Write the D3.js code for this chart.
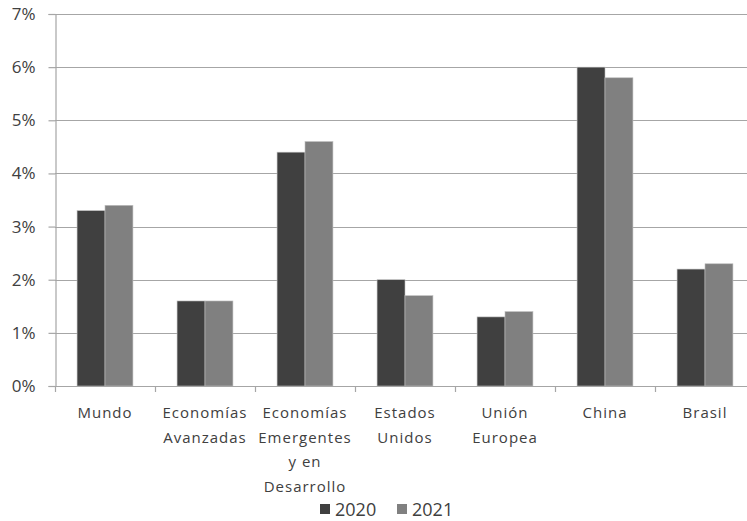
<!DOCTYPE html>
<html>
<head>
<meta charset="utf-8">
<script src="https://cdn.jsdelivr.net/npm/d3@7"></script>
<style>
  html, body { margin: 0; padding: 0; background: #fff; }
  svg { display: block; }
  text { font-family: "Open Sans", "DejaVu Sans", sans-serif; fill: #404040; }
</style>
</head>
<body>
<svg id="chart" width="747" height="521"></svg>
<script>
// Growth forecasts by region (percent)
const categories = ["Mundo", "Economías Avanzadas", "Economías Emergentes y en Desarrollo",
                    "Estados Unidos", "Unión Europea", "China", "Brasil"];
const categoryLines = [["Mundo"], ["Economías", "Avanzadas"], ["Economías", "Emergentes", "y en", "Desarrollo"],
                       ["Estados", "Unidos"], ["Unión", "Europea"], ["China"], ["Brasil"]];
const seriesNames = ["2020", "2021"];
const values2020 = [3.3, 1.6, 4.4, 2.0, 1.3, 6.0, 2.2];
const values2021 = [3.4, 1.6, 4.6, 1.7, 1.4, 5.8, 2.3];
const yTicks = [0, 1, 2, 3, 4, 5, 6, 7];
const colors = ["#404040", "#808080"];

const svg = d3.select("#chart");
const plotLeft = 55, plotRight = 755, plotTop = 14, plotBottom = 386;

const x = d3.scaleBand().domain(categories).range([plotLeft, plotRight]).padding(0);
const x1 = d3.scaleBand().domain(seriesNames).range([0, x.bandwidth()])
  .paddingInner(0).paddingOuter(0.79);
const y = d3.scaleLinear().domain([0, 7]).range([plotBottom, plotTop]);

// Horizontal gridlines
svg.append("g").selectAll("line").data(yTicks.filter(d => d > 0)).join("line")
  .attr("x1", plotLeft).attr("x2", plotRight)
  .attr("y1", d => Math.round(y(d)) + 0.5).attr("y2", d => Math.round(y(d)) + 0.5)
  .attr("stroke", "#a6a6a6").attr("stroke-width", 1.2);

// Bars
const rows = categories.map((c, i) => ({ c, vals: [values2020[i], values2021[i]] }));
const groups = svg.append("g").selectAll("g").data(rows).join("g")
  .attr("transform", d => `translate(${x(d.c)},0)`);
groups.selectAll("rect").data(d => d.vals.map((v, j) => ({ s: seriesNames[j], v, j }))).join("rect")
  .attr("x", d => x1(d.s))
  .attr("width", x1.bandwidth())
  .attr("y", d => y(d.v))
  .attr("height", d => y(0) - y(d.v))
  .attr("fill", d => colors[d.j])
  .attr("stroke", "#bfbfbf").attr("stroke-width", 0.6);

// Y axis
const yAxis = d3.axisLeft(y).tickValues(yTicks).tickFormat(d => d + "%").tickSize(7).tickPadding(13);
const gy = svg.append("g").attr("transform", `translate(${plotLeft + 0.5},0)`).call(yAxis);
gy.select(".domain").attr("stroke", "#a6a6a6").attr("stroke-width", 1.2);
gy.selectAll(".tick line").attr("stroke", "#a6a6a6").attr("stroke-width", 1.2);
gy.selectAll(".tick text").style("font-size", "17px").style("fill", "#404040")
  .attr("font-family", null);

// X axis line and category ticks
svg.append("line").attr("x1", plotLeft).attr("x2", plotRight)
  .attr("y1", plotBottom + 0.5).attr("y2", plotBottom + 0.5)
  .attr("stroke", "#a6a6a6").attr("stroke-width", 1.2);
const boundaries = categories.map(c => x(c)).concat([plotRight]);
svg.append("g").selectAll("line").data(boundaries).join("line")
  .attr("x1", d => Math.round(d) + 0.5).attr("x2", d => Math.round(d) + 0.5)
  .attr("y1", plotBottom).attr("y2", plotBottom + 6)
  .attr("stroke", "#a6a6a6").attr("stroke-width", 1.2);

// Category labels
const lbl = svg.append("g").selectAll("text").data(categories).join("text")
  .attr("text-anchor", "middle")
  .style("font-size", "15px").style("letter-spacing", "1px")
  .attr("transform", c => `translate(${x(c) + x.bandwidth() / 2},418)`);
lbl.selectAll("tspan").data((c, i) => categoryLines[i]).join("tspan")
  .attr("x", 0).attr("dy", (d, i) => i === 0 ? 0 : 24.5).text(d => d);

// Legend
const legend = svg.append("g").attr("transform", "translate(320,509)");
const li = legend.selectAll("g").data(seriesNames).join("g")
  .attr("transform", (d, i) => `translate(${i * 77},0)`);
li.append("rect").attr("x", 0).attr("y", -5).attr("width", 10).attr("height", 10)
  .attr("fill", (d, i) => colors[i]);
li.append("text").attr("x", 15).attr("y", 6.5).style("font-size", "18px").text(d => d);
</script>
</body>
</html>
